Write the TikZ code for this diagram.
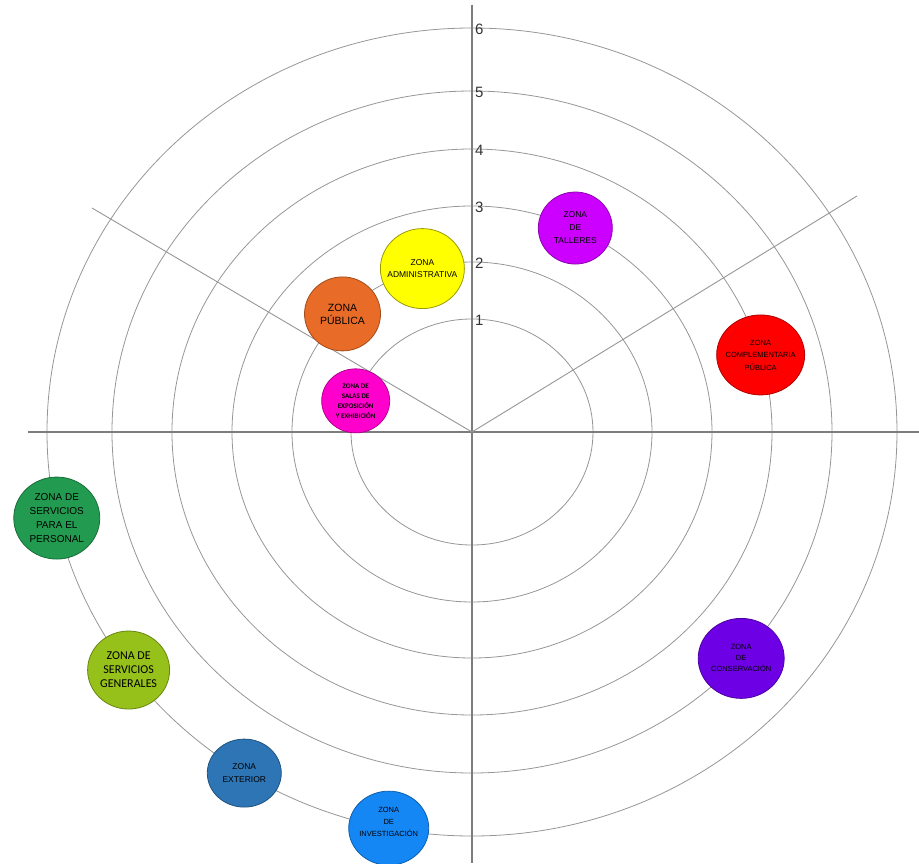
\documentclass[tikz,border=0pt]{standalone}
\usepackage{fontspec}
\setmainfont{Liberation Sans}
\newfontfamily\calfont{Carlito}
\usepackage{tikz}
\definecolor{ringgray}{RGB}{150,150,150}
\definecolor{axisgray}{RGB}{125,125,125}
\definecolor{zpublica}{RGB}{232,108,40}
\definecolor{zadmin}{RGB}{255,255,0}
\definecolor{zsalas}{RGB}{255,0,204}
\definecolor{ztalleres}{RGB}{204,0,255}
\definecolor{zcompl}{RGB}{255,0,0}
\definecolor{zconserv}{RGB}{110,0,230}
\definecolor{zpersonal}{RGB}{34,155,80}
\definecolor{zgenerales}{RGB}{150,192,26}
\definecolor{zexterior}{RGB}{46,117,182}
\definecolor{zinvestig}{RGB}{20,135,245}

\begin{document}
\begin{tikzpicture}[x=1pt, y=1pt,
    ring/.style={draw=ringgray, line width=0.8pt},
    axisline/.style={draw=axisgray, line width=1.2pt},
    radial/.style={draw=ringgray, line width=0.9pt},
    ringnum/.style={anchor=west, inner sep=0pt, text=black!80,
      font=\fontsize{15}{15}\selectfont},
    zone/.style={line width=0.8pt},
    zonetext/.style={align=center, inner sep=0pt, text=black}]
  \useasboundingbox (-472,-431) rectangle (447,432);
  \coordinate (O) at (0,0);
  % anillos
  \foreach \rx/\ry [count=\i] in {121/113, 180/170, 240/226, 300/283, 360/341, 425/404}{
    \draw[ring] (O) ellipse [x radius=\rx, y radius=\ry];
    \node[ringnum] (n\i) at (3,\ry-1) {\i};
  }
  % ejes
  \coordinate (W) at (-444,0);
  \coordinate (E) at (447,0);
  \coordinate (N) at (0,427);
  \coordinate (S) at (0,-431);
  \coordinate (NW) at (-380,224);
  \coordinate (NE) at (385,236);
  \draw[axisline] (W) -- (E);
  \draw[axisline] (N) -- (S);
  \draw[radial] (O) -- (NW);
  \draw[radial] (O) -- (NE);
  % zonas
  \filldraw[zone, fill=zpublica, draw=zpublica!70!black] (136:180 and 170) coordinate (pub)
    ellipse [x radius=38, y radius=37];
  \node[zonetext, font=\fontsize{10.5}{13}\selectfont] (pubtxt) at (pub) {ZONA\\PÚBLICA};
  \filldraw[zone, fill=zadmin, draw=zadmin!60!black] (106:180 and 170) coordinate (adm)
    ellipse [x radius=42, y radius=40];
  \node[zonetext, font=\fontsize{8.5}{12}\selectfont] (admtxt) at (adm) {ZONA\\ADMINISTRATIVA};
  \filldraw[zone, fill=zsalas, draw=zsalas!70!black] (164:121 and 113) coordinate (salas)
    ellipse [x radius=34, y radius=32];
  \node[zonetext, font=\calfont\bfseries\fontsize{7}{10}\selectfont] (salastxt) at (salas)
    {ZONA DE\\SALAS DE\\EXPOSICIÓN\\Y EXHIBICIÓN};
  \filldraw[zone, fill=ztalleres, draw=ztalleres!70!black] (64.5:240 and 226) coordinate (tall)
    ellipse [x radius=37, y radius=36];
  \node[zonetext, font=\fontsize{8.5}{13}\selectfont] (talltxt) at (tall) {ZONA\\DE\\TALLERES};
  \filldraw[zone, fill=zcompl, draw=zcompl!70!black] (15.8:300 and 283) coordinate (compl)
    ellipse [x radius=44, y radius=40];
  \node[zonetext, font=\fontsize{7.5}{12.5}\selectfont] (compltxt) at (compl)
    {ZONA\\COMPLEMENTARIA\\PÚBLICA};
  \filldraw[zone, fill=zconserv, draw=zconserv!70!black] (-41.6:360 and 341) coordinate (cons)
    ellipse [x radius=43, y radius=40];
  \node[zonetext, font=\fontsize{7.5}{11}\selectfont] (constxt) at (cons) {ZONA\\DE\\CONSERVACIÓN};
  \filldraw[zone, fill=zpersonal, draw=zpersonal!70!black] (192.3:425 and 404) coordinate (pers)
    ellipse [x radius=43, y radius=41];
  \node[zonetext, font=\fontsize{10}{14}\selectfont] (perstxt) at (pers)
    {ZONA DE\\SERVICIOS\\PARA EL\\PERSONAL};
  \filldraw[zone, fill=zgenerales, draw=zgenerales!70!black] (216.1:425 and 404) coordinate (gen)
    ellipse [x radius=41, y radius=39];
  \node[zonetext, font=\calfont\fontsize{12}{14}\selectfont] (gentxt) at (gen)
    {ZONA DE\\SERVICIOS\\GENERALES};
  \filldraw[zone, fill=zexterior, draw=zexterior!70!black] (237.6:425 and 404) coordinate (ext)
    ellipse [x radius=37, y radius=34];
  \node[zonetext, font=\fontsize{8.5}{13}\selectfont] (exttxt) at (ext) {ZONA\\EXTERIOR};
  \filldraw[zone, fill=zinvestig, draw=zinvestig!70!black] (258.7:425 and 404) coordinate (inv)
    ellipse [x radius=40, y radius=37];
  \node[zonetext, font=\fontsize{7.5}{12}\selectfont] (invtxt) at ([yshift=6]inv)
    {ZONA\\DE\\INVESTIGACIÓN};
\end{tikzpicture}
\end{document}
